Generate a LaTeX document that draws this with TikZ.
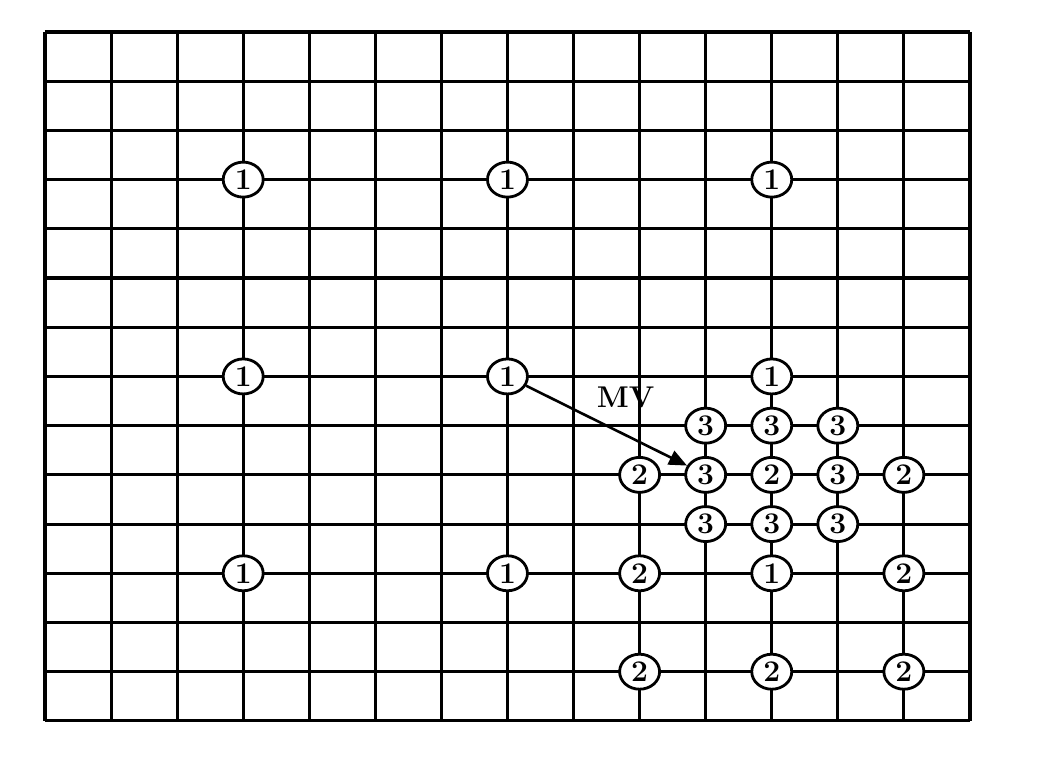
\documentclass[tikz,border=0pt]{standalone}
\usepackage{tikz}
\usetikzlibrary{arrows.meta,shapes.geometric}

\tikzset{
  gridline/.style={line width=3.1pt},
  blob/.style={ellipse, draw, line width=2.8pt, fill=white, inner sep=0pt,
    minimum width=40pt, minimum height=35pt, font=\fontsize{30}{30}\selectfont\bfseries},
  mvarrow/.style={line width=2.6pt, -{Triangle[length=18pt,width=15pt]}}
}

\begin{document}
\begin{tikzpicture}[x=66.07pt, y=-49.21pt]
        % Page frame (grid lines sit on whole numbers)
        \useasboundingbox (-0.681,-0.650) rectangle (15.030,14.753);

        % Search grid
        \foreach \i in {0,...,14} {
          \draw[gridline] (\i,0) -- (\i,14);
          \draw[gridline] (0,\i) -- (14,\i);
        }

        % First step
        \foreach \c in {3,7,11}
          \foreach \r in {3,7,11}
            \node[blob] (one-\c-\r) at (\c,\r) {1};

        % Second step
        \foreach \c/\r in {9/9,11/9,13/9,9/11,13/11,9/13,11/13,13/13}
          \node[blob] (two-\c-\r) at (\c,\r) {2};

        % Third step
        \foreach \c/\r in {10/8,11/8,12/8,10/9,12/9,10/10,11/10,12/10}
          \node[blob] (three-\c-\r) at (\c,\r) {3};

        % Motion vector
        \draw[mvarrow] (one-7-7) -- (three-10-9);
        \node[font=\fontsize{30}{30}\selectfont\bfseries] (mv) at (8.79,7.42) {MV};

      \end{tikzpicture}
\end{document}
